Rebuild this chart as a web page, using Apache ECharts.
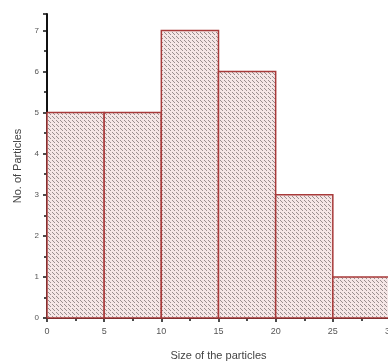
<!DOCTYPE html>
<html>
<head>
<meta charset="utf-8">
<script src="https://cdn.jsdelivr.net/npm/echarts@6/dist/echarts.min.js"></script>
<style>
  html, body { margin: 0; padding: 0; overflow: hidden; background: #fff; }
  #chart { width: 388px; height: 361px; }
</style>
</head>
<body>
<div id="chart"></div>
<script>
// histogram bins (particle size) and counts
const binStart = [0, 5, 10, 15, 20, 25];
const binEnd = [5, 10, 15, 20, 25, 30];
const counts = [5, 5, 7, 6, 3, 1];

// hatched fill like the original plot
function makeHatch() {
  let c = document.createElement("canvas");
  c.width = 8;
  c.height = 8;
  let ctx = c.getContext("2d");
  ctx.fillStyle = "#f5e6e6";
  ctx.fillRect(0, 0, 8, 8);
  ctx.fillStyle = "#9a8e8e";
  for (let i = 0; i < 8; i++) {
    if (i % 4 === 3) continue;
    ctx.fillRect(i, i, 1, 1);
    ctx.fillRect(i, (i + 4) % 8, 1, 1);
  }
  return c;
}

let hatch = makeHatch();
let chartDom = document.getElementById("chart");
let myChart = echarts.init(chartDom);

let data = binStart.map(function (s, i) {
  return [s, binEnd[i], counts[i]];
});

let option = {
  animation: false,
  grid: {
    left: 47,
    right: -2,
    top: 14,
    bottom: 43,
    outerBoundsMode: "none"
  },
  xAxis: {
    type: "value",
    min: 0,
    max: 30,
    interval: 5,
    name: "Size of the particles",
    nameLocation: "middle",
    nameGap: 32,
    nameTextStyle: { fontSize: 11, color: "#444", fontFamily: "Liberation Sans" },
    axisLine: { lineStyle: { color: "#111", width: 2 } },
    axisTick: { length: 4, lineStyle: { color: "#111", width: 1.5 } },
    minorTick: { show: true, splitNumber: 2, length: 3, lineStyle: { color: "#111", width: 1.5 } },
    axisLabel: { fontSize: 9, color: "#555", margin: 9, fontFamily: "Liberation Sans" },
    splitLine: { show: false }
  },
  yAxis: {
    type: "value",
    min: 0,
    max: 7.4,
    interval: 1,
    name: "No. of Particles",
    nameLocation: "middle",
    nameGap: 22,
    nameTextStyle: { fontSize: 11, color: "#444", fontFamily: "Liberation Sans" },
    axisLine: { show: true, lineStyle: { color: "#111", width: 2 } },
    axisTick: { show: true, length: 4, lineStyle: { color: "#111", width: 1.5 } },
    minorTick: { show: true, splitNumber: 2, length: 3, lineStyle: { color: "#111", width: 1.5 } },
    axisLabel: { fontSize: 8, color: "#555", margin: 8, fontFamily: "Liberation Sans", showMaxLabel: false },
    splitLine: { show: false }
  },
  series: [
    {
      type: "custom",
      data: data,
      encode: { x: [0, 1], y: 2 },
      renderItem: function (params, api) {
        let p0 = api.coord([api.value(0), api.value(2)]);
        let p1 = api.coord([api.value(1), 0]);
        return {
          type: "rect",
          shape: { x: p0[0], y: p0[1], width: p1[0] - p0[0], height: p1[1] - p0[1] },
          style: {
            fill: { image: hatch, repeat: "repeat" },
            stroke: "#a83a3a",
            lineWidth: 1.5
          }
        };
      }
    }
  ]
};

myChart.setOption(option);
</script>
</body>
</html>
